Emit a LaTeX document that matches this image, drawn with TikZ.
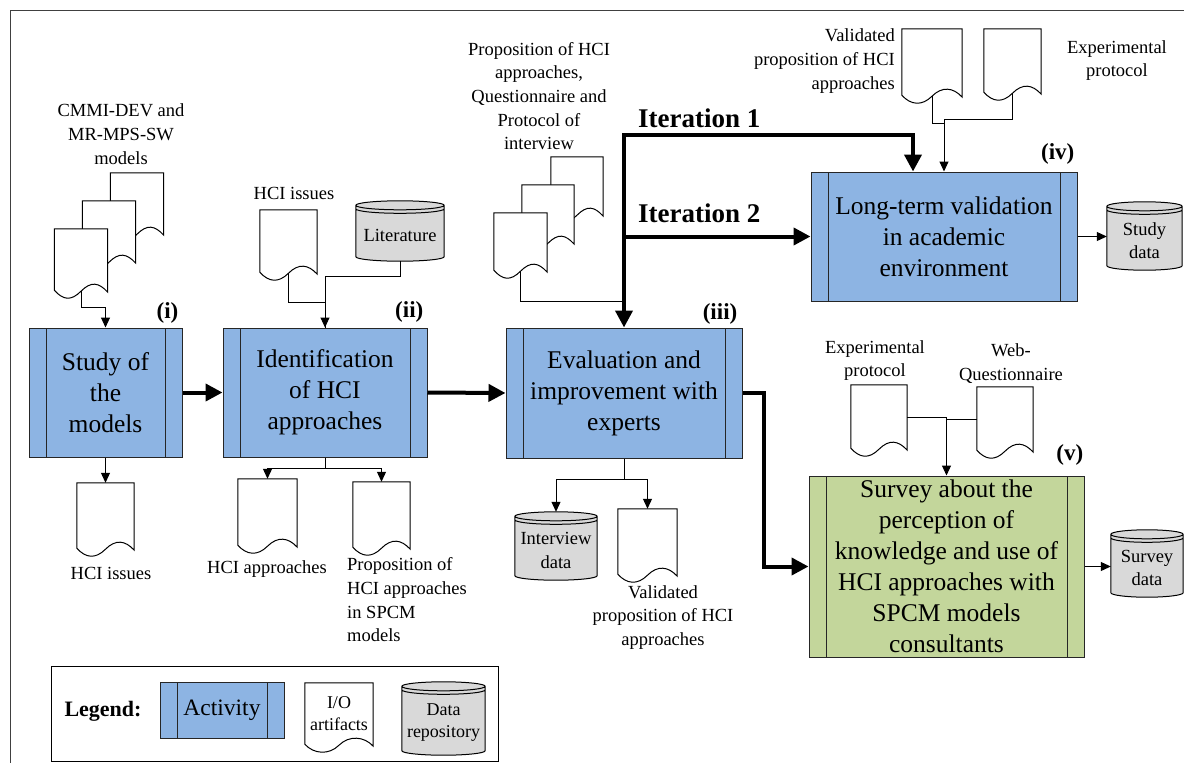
\documentclass[tikz,border=0pt]{standalone}
\usepackage{fontspec}
\setmainfont{Liberation Serif}
\usetikzlibrary{arrows.meta,calc,positioning}
\pgfdeclarelayer{background}
\pgfsetlayers{background,main}
\definecolor{actblue}{HTML}{8DB4E3}
\definecolor{actgreen}{HTML}{C3D69B}
\definecolor{storegray}{HTML}{D9D9D9}
\definecolor{edge}{HTML}{262626}

\tikzset{
  activity/.style={draw=edge, line width=1pt, fill=actblue, inner sep=0pt, align=center,
    font=\fontsize{25.5}{31}\selectfont,
    path picture={\draw[edge, line width=1pt]
      ([xshift=17pt]path picture bounding box.north west) -- ([xshift=17pt]path picture bounding box.south west)
      ([xshift=-17pt]path picture bounding box.north east) -- ([xshift=-17pt]path picture bounding box.south east);}},
  doc/.style={inner sep=0pt, align=center, font=\fontsize{18}{22}\selectfont},
  store/.style={inner sep=0pt, align=center, font=\fontsize{18.5}{23.5}\selectfont},
  txt/.style={inner sep=0pt, align=center, font=\fontsize{18.5}{23.7}\selectfont},
  tag/.style={inner sep=0pt, font=\bfseries\fontsize{23}{27}\selectfont, anchor=south east},
  iter/.style={inner sep=0pt, font=\bfseries\fontsize{27}{32}\selectfont, anchor=west},
  conn/.style={draw=black, line width=1pt},
  arr/.style={conn, -{Triangle[length=10pt,width=9pt]}},
  flow/.style={line width=4pt, -{Triangle[length=17pt,width=17pt]}},
}

\begin{document}
\begin{tikzpicture}[x=1pt, y=-1pt]
  \useasboundingbox (0,0) rectangle (1184,763);
  \draw[black!75, line width=1pt] (10,763) -- (10,10) -- (1184,10);

  % activities
  \node[activity, minimum width=153pt, minimum height=129pt] (s1) at (105.5,392.5) {Study of\\the\\models};
  \node[activity, minimum width=204pt, minimum height=129pt] (s2) at (325,392.5) {Identification\\of HCI\\approaches};
  \node[activity, minimum width=236pt, minimum height=130pt] (s3) at (624,393) {Evaluation and\\improvement with\\experts};
  \node[activity, minimum width=266pt, minimum height=129pt] (s4) at (944,236.5) {Long-term validation\\in academic\\environment};
  \node[activity, fill=actgreen, minimum width=275pt, minimum height=181pt] (s5) at (946.5,566.5)
    {Survey about the\\perception of\\knowledge and use of\\HCI approaches with\\SPCM models\\consultants};

  \node[tag] (t1) at ([xshift=-4pt,yshift=4pt]s1.north east) {(i)};
  \node[tag] (t2) at ([xshift=-4pt,yshift=5pt]s2.north east) {(ii)};
  \node[tag] (t3) at ([xshift=-5pt,yshift=3pt]s3.north east) {(iii)};
  \node[tag] (t4) at ([xshift=-3pt,yshift=7pt]s4.north east) {(iv)};
  \node[tag] (t5) at ([xshift=-1pt,yshift=10pt]s5.north east) {(v)};

  % artifacts
  \node[doc, minimum width=53pt, minimum height=61pt] (m3) at (137,203.5) {};
  \node[doc, minimum width=53pt, minimum height=61pt] (m2) at (109,231.5) {};
  \node[doc, minimum width=53pt, minimum height=62pt] (m1) at (81,260) {};
  \node[doc, minimum width=57pt, minimum height=66pt] (o1) at (105.5,516) {};
  \node[doc, minimum width=57pt, minimum height=63pt] (c1) at (288.5,241.5) {};
  \node[doc, minimum width=59pt, minimum height=67pt] (o2) at (267.5,512.5) {};
  \node[doc, minimum width=57pt, minimum height=66pt] (o3) at (381.5,515) {};
  \node[doc, minimum width=52pt, minimum height=58pt] (e3) at (577,186) {};
  \node[doc, minimum width=52pt, minimum height=58pt] (e2) at (548,214) {};
  \node[doc, minimum width=53pt, minimum height=58pt] (e1) at (520.5,242) {};
  \node[doc, minimum width=59pt, minimum height=66pt] (o4) at (647.5,542) {};
  \node[doc, minimum width=60pt, minimum height=67pt] (i1) at (932,62.5) {};
  \node[doc, minimum width=57pt, minimum height=64pt] (i2) at (1012.5,61) {};
  \node[doc, minimum width=56pt, minimum height=64pt] (v1) at (879,417) {};
  \node[doc, minimum width=56pt, minimum height=64pt] (v2) at (1005,419) {};

  % data stores
  \node[store, minimum width=88pt, minimum height=51pt] (lit) at (400,235.5) {Literature};
  \node[store, minimum width=75pt, minimum height=59pt] (st) at (1144.5,240.5) {Study\\data};
  \node[store, minimum width=82pt, minimum height=59pt] (int) at (556,550.5) {Interview\\data};
  \node[store, minimum width=72pt, minimum height=58pt] (sv) at (1147,568) {Survey\\data};

  % texts
  \node[txt] (lm) at (121,134) {CMMI-DEV and\\MR-MPS-SW\\models};
  \node[txt] (lc1) at (294,193) {HCI issues};
  \node[txt] (le) at (539,96) {Proposition of HCI\\approaches,\\Questionnaire and\\Protocol of\\interview};
  \node[txt, anchor=east, align=right] (li1) at (895,61) {Validated\\proposition of HCI\\approaches};
  \node[txt] (li2) at (1117,60.5) {Experimental\\protocol};
  \node[txt] (lo1) at (111,573) {HCI issues};
  \node[txt] (lo2) at (267,569) {HCI approaches};
  \node[txt, anchor=west, align=left] (lo3) at (347,600) {Proposition of\\HCI approaches\\in SPCM\\models};
  \node[txt] (lo4) at (663,617.5) {Validated\\proposition of HCI\\approaches};
  \node[txt] (lv1) at (875,360.5) {Experimental\\protocol};
  \node[txt] (lv2) at (1011,363.5) {Web-\\Questionnaire};

  % legend
  \draw[conn] (51,666) rectangle (498,761);
  \node[inner sep=0pt, font=\bfseries\fontsize{22}{26}\selectfont] (leg) at (103,711) {Legend:};
  \node[activity, minimum width=124pt, minimum height=56pt, font=\fontsize{23.5}{28}\selectfont] (la) at (222,710) {Activity};
  \node[doc, minimum width=68pt, minimum height=62pt] (ld) at (339,714) {I/O\\artifacts};
  \node[store, minimum width=83pt, minimum height=64pt, font=\fontsize{18}{22}\selectfont] (ls) at (443.5,723) {Data\\repository};

  \begin{pgfonlayer}{background}
    \foreach \d in {m3,m2,m1,c1,o1,o2,o3,e3,e2,e1,o4,i1,i2,v1,v2,ld}
      \draw[conn, fill=white] ([yshift=1pt]\d.south west) -- (\d.north west) -- (\d.north east) -- ([yshift=-1pt]\d.south east)
        .. controls +(-9,-10) and +(10,-10) .. (\d.south)
        .. controls +(-10,10) and +(9,10) .. ([yshift=1pt]\d.south west) -- cycle;
    \foreach \c in {lit,st,int,sv,ls}
      \draw[conn, fill=storegray] let \p1=(\c.west), \p2=(\c.east), \n1={(\x2-\x1)/2} in
        ([yshift=4.5pt]\c.north west) -- ([yshift=4.5pt]\c.south west)
        arc[start angle=180, end angle=360, x radius={\n1*1pt}, y radius=4.5pt]
        -- ([yshift=4.5pt]\c.north east)
        arc[start angle=0, end angle=180, x radius={\n1*1pt}, y radius=4.5pt] -- cycle
        ([yshift=4.5pt]\c.north west) arc[start angle=180, end angle=360, x radius={\n1*1pt}, y radius=4.5pt]
        ([yshift=1pt]\c.north west) arc[start angle=180, end angle=360, x radius={\n1*1pt}, y radius=4.5pt];
  \end{pgfonlayer}

  % main flow
  \draw[flow] (s1.east) -- (s2.west);
  \draw[flow] (s2.east) -- (s3.west);
  \draw[flow] (s3.east) -- ++(21,0) |- (s5.west);
  \coordinate (itop) at (624,135);
  \draw[line width=4pt, {Triangle[length=17pt,width=17pt]}-{Triangle[length=17pt,width=17pt]}]
    (s3.north) -- (itop) -| ([xshift=-31pt]s4.north);
  \draw[flow] (s3.north |- s4.west) -- (s4.west);
  \node[iter] (it1) at (638,118) {Iteration 1};
  \node[iter] (it2) at (638,213) {Iteration 2};

  % inputs and outputs
  \draw[arr] (m1.south) -- ++(0,16) -| (s1.north);
  \draw[arr] (s1.south) -- (o1.north);
  \draw[arr] (c1.south) -- ++(0,29) -| (s2.north);
  \draw[conn] (lit.south) -- ++(0,15) -| (s2.north);
  \draw[arr] (s2.south) -- ++(0,11) -| (o2.north);
  \draw[arr] (s2.south) -- ++(0,11) -| (o3.north);
  \draw[conn] (e1.south) |- ([yshift=26pt]s3.north);
  \draw[arr] (s3.south) -- ++(0,21) -| ([yshift=9pt]int.north);
  \draw[arr] (s3.south) -- ++(0,21) -| (o4.north);
  \coordinate (jiv) at (s4.north |- 0,119);
  \draw[arr] (i2.south) |- (jiv) -- (s4.north);
  \draw[conn] (i1.south) |- ([yshift=-4pt]jiv);
  \draw[arr] (s4.east) -- (s4.east -| st.west);
  \draw[arr] (v1.east) -| (s5.north);
  \draw[conn] (v2.west) -- (v2.west -| s5.north);
  \draw[arr] (s5.east) -- (s5.east -| sv.west);
\end{tikzpicture}
\end{document}
